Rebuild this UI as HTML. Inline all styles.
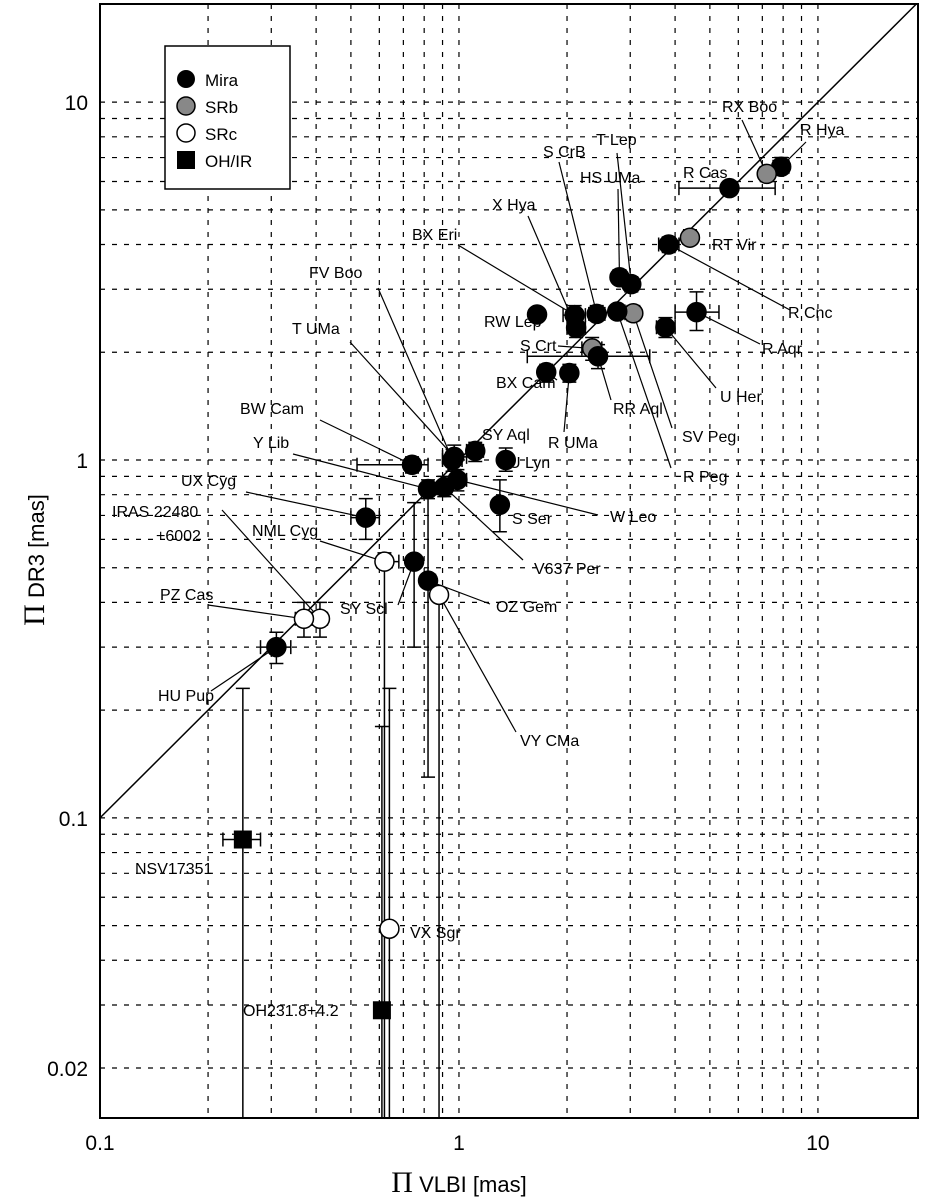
<!DOCTYPE html>
<html><head><meta charset="utf-8">
<style>
html,body{margin:0;padding:0;background:#fff;}
svg{display:block;font-family:"Liberation Sans",sans-serif;}
</style></head>
<body>
<svg id="chart" width="936" height="1200" viewBox="0 0 936 1200" xmlns="http://www.w3.org/2000/svg">
<rect x="0" y="0" width="936" height="1200" fill="#fff"/>
<g id="grid"></g>
<g id="diag"></g>
<g id="leaders"></g>
<g id="errs"></g>
<g id="marks"></g>
<g id="labels"></g>
<rect x="100" y="4" width="818" height="1114" fill="none" stroke="#000" stroke-width="2"/>
<g id="ticklabels" font-size="21"></g>
<text x="459" y="1192" text-anchor="middle" font-size="22"><tspan font-family="Liberation Serif" font-size="30">Π</tspan> VLBI [mas]</text>
<text transform="translate(44,560) rotate(-90)" text-anchor="middle" font-size="22"><tspan font-family="Liberation Serif" font-size="30">Π</tspan> DR3 [mas]</text>
<g>
<rect x="165" y="46" width="125" height="143" fill="#fff" stroke="#000" stroke-width="1.5"/>
<circle cx="186" cy="79" r="9" fill="#000"/><text x="205" y="86" font-size="17">Mira</text>
<circle cx="186" cy="106" r="9" fill="#888" stroke="#000" stroke-width="1.5"/><text x="205" y="113" font-size="17">SRb</text>
<circle cx="186" cy="133" r="9" fill="#fff" stroke="#000" stroke-width="1.5"/><text x="205" y="140" font-size="17">SRc</text>
<rect x="177" y="151" width="18" height="18" fill="#000"/><text x="205" y="167" font-size="17">OH/IR</text>
</g>
</svg>
<script>
const names=["R Hya","RX Boo","R Cas","RT Vir","R Cnc","R Aqr","U Her","T Lep","HS UMa","S CrB","X Hya","SV Peg","R Peg","BX Eri","RW Lep","S Crt","RR Aql","BX Cam","R UMa","SY Aql","U Lyn","BW Cam","FV Boo","T UMa","Y Lib","V637 Per","W Leo","S Ser","UX Cyg","SY Scl","OZ Gem","HU Pup","NML Cyg","IRAS 22480+6002","PZ Cas","VY CMa","VX Sgr","NSV17351","OH231.8+4.2"];
const types=["Mira","SRb","Mira","SRb","Mira","Mira","Mira","Mira","Mira","Mira","Mira","SRb","Mira","Mira","Mira","SRb","Mira","Mira","Mira","Mira","Mira","Mira","Mira","Mira","Mira","Mira","Mira","Mira","Mira","Mira","Mira","Mira","SRc","SRc","SRc","SRc","SRc","OHIR","OHIR"];
const plxVLBI=[7.9,7.2,5.67,4.4,3.84,4.59,3.76,3.02,2.8,2.42,2.12,3.06,2.76,2.1,1.65,2.35,2.44,1.75,2.03,1.11,1.35,0.74,0.96,0.97,0.82,0.91,0.99,1.3,0.55,0.75,0.82,0.31,0.62,0.41,0.37,0.88,0.64,0.25,0.61];
const plxDR3=[6.6,6.3,5.75,4.18,4.0,2.59,2.35,3.1,3.24,2.56,2.34,2.57,2.6,2.54,2.55,2.05,1.95,1.76,1.75,1.06,1.0,0.97,1.0,1.02,0.83,0.84,0.88,0.75,0.69,0.52,0.46,0.3,0.52,0.36,0.36,0.42,0.049,0.087,0.029];
const dr3Lo=[6.3,6.0,5.5,4.0,3.8,2.3,2.2,2.95,3.1,2.45,2.2,2.45,2.5,2.4,2.45,1.9,1.8,1.65,1.65,0.99,0.93,0.92,0.93,0.94,0.78,0.79,0.82,0.63,0.6,0.3,0.13,0.27,0.0145,0.32,0.32,0.0145,0.0145,0.0145,0.0145];
const dr3Hi=[7.0,6.6,6.0,4.4,4.2,2.95,2.5,3.25,3.4,2.7,2.5,2.7,2.7,2.7,2.65,2.2,2.1,1.85,1.85,1.12,1.08,1.02,1.07,1.1,0.88,0.9,0.94,0.88,0.78,0.76,0.82,0.33,0.55,0.4,0.4,0.44,0.23,0.23,0.18];
const vlbiLo=[7.5,6.9,4.1,4.2,3.6,4.0,3.55,2.9,2.7,2.3,2.0,2.9,2.65,1.95,1.6,2.2,1.55,1.7,1.95,1.05,1.3,0.52,0.9,0.9,0.79,0.88,0.95,1.25,0.5,0.72,0.79,0.28,0.6,0.39,0.35,0.85,0.62,0.22,0.59];
const vlbiHi=[8.3,7.5,7.6,4.6,4.1,5.3,4.0,3.15,2.9,2.55,2.25,3.2,2.9,2.25,1.7,2.5,3.4,1.8,2.1,1.17,1.4,0.82,1.02,1.05,0.85,0.95,1.05,1.35,0.6,0.78,0.86,0.34,0.68,0.43,0.39,0.92,0.66,0.28,0.63];
const xTicks=["0.1","1","10"];
const yTicks=["10","1","0.1","0.02"];

const X0=100,X1=918,Y0=1118,Y1=4;
const xmin=-1,xmax=Math.log10(19),ymin=Math.log10(0.0145),ymax=Math.log10(18.8);
function xs(v){return X0+(Math.log10(v)-xmin)/(xmax-xmin)*(X1-X0);}
function ys(v){return Y0-(Math.log10(v)-ymin)/(ymax-ymin)*(Y0-Y1);}
const NS="http://www.w3.org/2000/svg";
function mk(tag,attrs,parent){const e=document.createElementNS(NS,tag);for(const k in attrs)e.setAttribute(k,attrs[k]);document.getElementById(parent).appendChild(e);return e;}

for(let d=-1;d<=1;d++)for(let m=1;m<=9;m++){const v=m*Math.pow(10,d);if(v<=0.1&&m>1)continue;if(v>19)continue;
 const x=xs(v);if(x<=X0+1)continue;
 const g=mk('line',{x1:x,x2:x,y1:Y1,y2:Y0,stroke:'#000','stroke-width':1.2,'stroke-dasharray':'5,7'},'grid');
 
 }
for(let d=-2;d<=1;d++)for(let m=1;m<=9;m++){const v=m*Math.pow(10,d);if(v<0.0145||v>18.8)continue;
 const y=ys(v);
 const g=mk('line',{x1:X0,x2:X1,y1:y,y2:y,stroke:'#000','stroke-width':1.2,'stroke-dasharray':'5,7'},'grid');
 
 }
xTicks.forEach(t=>{const e=mk('text',{x:xs(+t),y:1150,'text-anchor':'middle'},'ticklabels');e.textContent=t;
 
 });
yTicks.forEach(t=>{const e=mk('text',{x:88,y:ys(+t)+8,'text-anchor':'end'},'ticklabels');e.textContent=t;
 
 });
const dl=mk('line',{x1:xs(0.1),y1:ys(0.1),x2:xs(18.8),y2:ys(18.8),stroke:'#000','stroke-width':1.5},'diag');



const labelPos={"R Hya":[800,135,806,142],"RX Boo":[722,112,742,120],"R Cas":[683,178],"RT Vir":[712,250],"R Cnc":[788,318,790,310],"R Aqr":[762,354,760,344],"U Her":[720,402,716,388],"T Lep":[596,145,617,153],"HS UMa":[580,183,618,189],"S CrB":[543,157,559,162],"X Hya":[492,210,528,216],"SV Peg":[682,442,672,428],"R Peg":[683,482,671,468],"BX Eri":[412,240,458,245],"RW Lep":[484,327],"S Crt":[520,351,558,346],"RR Aql":[613,414,611,400],"BX Cam":[496,388,557,380],"R UMa":[548,448,564,432],"SY Aql":[482,440],"U Lyn":[509,468],"BW Cam":[240,414,320,420],"FV Boo":[309,278,378,288],"T UMa":[292,334,350,342],"Y Lib":[253,448,293,454],"V637 Per":[534,574,523,560],"W Leo":[610,522,598,515],"S Ser":[512,524],"UX Cyg":[181,486,246,492],"SY Scl":[340,614,398,605],"OZ Gem":[496,612,490,604],"HU Pup":[158,701,211,691],"NML Cyg":[252,536,320,541],"PZ Cas":[160,600,208,605],"VY CMa":[520,746,516,732],"VX Sgr":[410,938],"NSV17351":[135,874],"OH231.8+4.2":[243,1016]};
names.forEach((n,i)=>{
 const cx=xs(plxVLBI[i]),cy=ys(plxDR3[i]);
 const eb=mk('path',{d:`M${xs(vlbiLo[i])},${cy}H${xs(vlbiHi[i])}M${xs(vlbiLo[i])},${cy-7}v14M${xs(vlbiHi[i])},${cy-7}v14M${cx},${ys(dr3Lo[i])}V${ys(dr3Hi[i])}M${cx-7},${ys(dr3Hi[i])}h14M${cx-7},${ys(dr3Lo[i])}h14`,stroke:'#000','stroke-width':1.5,fill:'none'},'errs');
 
 
 let m;
 const t=types[i];
 if(t==='OHIR') m=mk('rect',{x:cx-9,y:cy-9,width:18,height:18,fill:'#000'},'marks');
 else m=mk('circle',{cx:cx,cy:cy,r:9.5,fill:t==='Mira'?'#000':t==='SRb'?'#888':'#fff',stroke:'#000','stroke-width':1.5},'marks');
 
 
 const p=labelPos[n];
 if(p){
  if(p.length>2){const l=mk('line',{x1:p[2],y1:p[3],x2:cx,y2:cy,stroke:'#000','stroke-width':1.2},'leaders');
   
   }
  const e=mk('text',{x:p[0],y:p[1],'font-size':16},'labels');
  e.textContent=n;
  
  
 }
});
(function(){const cx=xs(0.41),cy=ys(0.36);
 const l=mk('line',{x1:222,y1:510,x2:cx,y2:cy,stroke:'#000','stroke-width':1.2},'leaders');
 
 
 const e1=mk('text',{x:112,y:517,'font-size':16},'labels');e1.textContent="IRAS 22480";
 
 
 const e2=mk('text',{x:156,y:541,'font-size':16},'labels');e2.textContent="+6002";
 
 })();
</script>
</body></html>
